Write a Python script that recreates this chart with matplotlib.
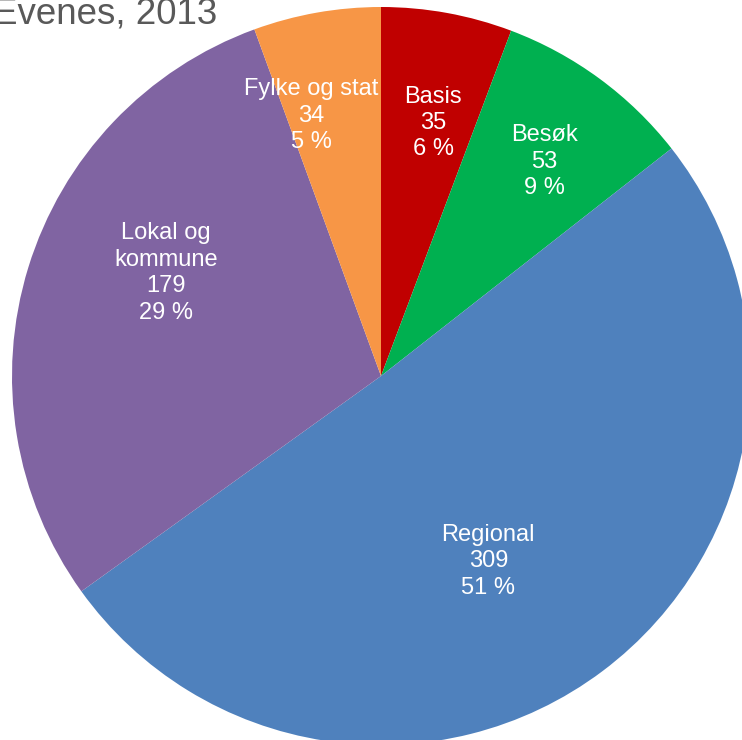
import numpy as np
import matplotlib
matplotlib.use("Agg")
import matplotlib.pyplot as plt

categories = ["Basis", "Besøk", "Regional", "Lokal og\nkommune", "Fylke og stat"]
values = [35, 53, 309, 179, 34]
percents = [6, 9, 51, 29, 5]
colors = ["#C00000", "#00B050", "#4F81BD", "#8064A2", "#F79646"]
title = "Evenes, 2013"

plt.rcParams["font.family"] = ["Liberation Sans", "DejaVu Sans"]

W, H = 742, 740
fig = plt.figure(figsize=(W / 100, H / 100), dpi=100)
ax = fig.add_axes([0, 0, 1, 1])

cx, cy, R = 381, H - 376, 369
wedges, _ = ax.pie(values, colors=colors, startangle=90, counterclock=False,
                   center=(cx, cy), radius=R, frame=True,
                   wedgeprops=dict(linewidth=0))
ax.set_xlim(0, W)
ax.set_ylim(0, H)
ax.axis("off")

# label placement (radius fraction, angle offset in degrees)
label_r = [0.70, 0.73, 0.58, 0.646, 0.73]
label_da = [-1.3, -1.0, -6.8, -8.5, 5.0]
for w, cat, v, p, rf, da in zip(wedges, categories, values, percents, label_r, label_da):
    mid = np.deg2rad((w.theta1 + w.theta2) / 2 + da)
    x = cx + rf * R * np.cos(mid)
    y = cy + rf * R * np.sin(mid)
    ax.text(x, y, f"{cat}\n{v}\n{p} %", ha="center", va="center",
            color="white", fontsize=17, linespacing=1.26)

fig.text(-7 / W, 1 - 23 / H, title, ha="left", va="baseline",
         fontsize=26.5, color="#595959")

fig.savefig("out.png", dpi=100)
